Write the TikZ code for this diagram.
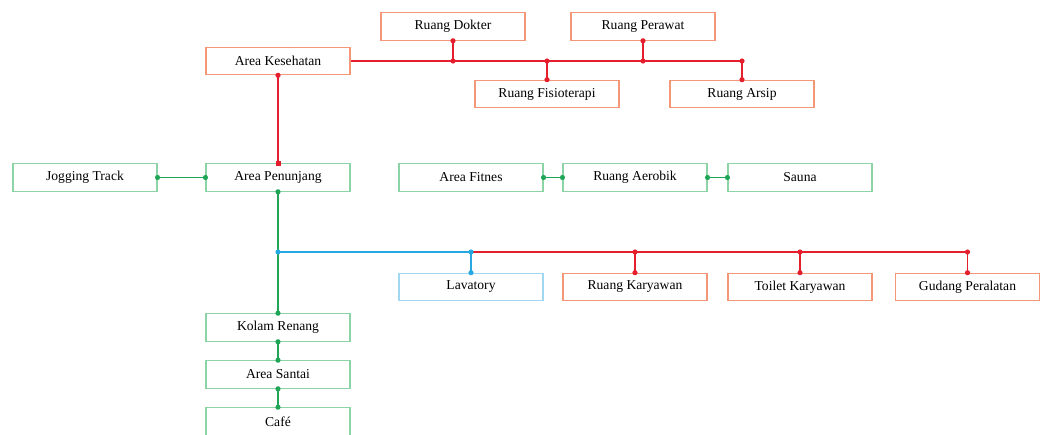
\documentclass[tikz,border=0pt]{standalone}
\usepackage{fontspec}
\setmainfont{Liberation Serif}
\usetikzlibrary{calc}
\definecolor{redbd}{RGB}{244,150,120}
\definecolor{redln}{RGB}{228,30,45}
\definecolor{greenbd}{RGB}{140,212,165}
\definecolor{greenln}{RGB}{30,165,85}
\definecolor{bluebd}{RGB}{160,215,242}
\definecolor{blueln}{RGB}{40,168,225}
\tikzset{
  room/.style={draw, line width=1.1pt, minimum width=144pt, minimum height=27.5pt,
    inner sep=0pt, font=\fontsize{13.6}{15}\selectfont},
  redroom/.style={room, draw=redbd},
  greenroom/.style={room, draw=greenbd},
  blueroom/.style={room, draw=bluebd},
  redlink/.style={draw=redln, line width=1.4pt},
  greenlink/.style={draw=greenln, line width=1.4pt},
  bluelink/.style={draw=blueln, line width=1.4pt},
  rdot/.style={fill=redln},
  gdot/.style={fill=greenln},
  bdot/.style={fill=blueln},
}
\newcommand{\pdot}[2]{\fill[#1] (#2) circle (2.6pt);}
\begin{document}
\begin{tikzpicture}[x=1pt,y=-1pt]
\useasboundingbox (0,0) rectangle (1046,434);

% health wing
\node[redroom] (dok) at (453,26.5) {Ruang Dokter};
\node[redroom] (per) at (643,26.5) {Ruang Perawat};
\node[redroom] (kes) at (278,61) {Area Kesehatan};
\node[redroom] (fis) at (547,94) {Ruang Fisioterapi};
\node[redroom] (ars) at (742,94) {Ruang Arsip};

% support wing
\node[greenroom] (jog) at (85,177.5) {Jogging Track};
\node[greenroom] (pen) at (278,177.5) {Area Penunjang};
\node[greenroom] (fit) at (471,177.5) {Area Fitnes};
\node[greenroom] (aer) at (635,177.5) {Ruang Aerobik};
\node[greenroom] (sau) at (800,177.5) {Sauna};

% service rooms
\node[blueroom] (lav) at (471,287) {Lavatory};
\node[redroom] (kar) at (635,287) {Ruang Karyawan};
\node[redroom] (toi) at (800,287) {Toilet Karyawan};
\node[redroom] (gud) at (967.5,287) {Gudang Peralatan};

% pool column
\node[greenroom] (kol) at (278,327.5) {Kolam Renang};
\node[greenroom] (san) at (278,374.5) {Area Santai};
\node[greenroom] (caf) at (278,421.5) {Café};

% junction points
\coordinate (jdok) at (dok.south |- kes.east);
\coordinate (jper) at (per.south |- kes.east);
\coordinate (jfis) at (fis.north |- kes.east);
\coordinate (jars) at (ars.north |- kes.east);
\coordinate (jsvc) at (278,252);
\coordinate (jlav) at (lav.north |- jsvc);
\coordinate (jkar) at (kar.north |- jsvc);
\coordinate (jtoi) at (toi.north |- jsvc);
\coordinate (jgud) at (gud.north |- jsvc);

% health wing links
\draw[redlink] (kes.east) -- (jars) -- (ars.north);
\draw[redlink] (dok.south) -- (jdok);
\draw[redlink] (per.south) -- (jper);
\draw[redlink] (jfis) -- (fis.north);
\draw[redlink] (kes.south) -- (pen.north);
\foreach \p in {dok.south,jdok,per.south,jper,jfis,fis.north,jars,ars.north,kes.south}
  {\pdot{rdot}{\p}}
\fill[redln] ($(pen.north)+(-2.5,-2.5)$) rectangle ($(pen.north)+(2.5,2.5)$);

% support wing links
\draw[greenlink] (jog.east) -- (pen.west);
\draw[greenlink] (fit.east) -- (aer.west);
\draw[greenlink] (aer.east) -- (sau.west);
\draw[greenlink] (pen.south) -- (kol.north);
\draw[greenlink] (kol.south) -- (san.north);
\draw[greenlink] (san.south) -- (caf.north);
\foreach \p in {jog.east,pen.west,fit.east,aer.west,aer.east,sau.west,pen.south,kol.north,kol.south,san.north,san.south,caf.north}
  {\pdot{gdot}{\p}}

% service links
\draw[bluelink] (jsvc) -- (jlav) -- (lav.north);
\draw[redlink] (jlav) -- (jgud) -- (gud.north);
\draw[redlink] (jkar) -- (kar.north);
\draw[redlink] (jtoi) -- (toi.north);
\foreach \p in {jsvc,jlav,lav.north} {\pdot{bdot}{\p}}
\foreach \p in {jkar,kar.north,jtoi,toi.north,jgud,gud.north} {\pdot{rdot}{\p}}
\end{tikzpicture}
\end{document}
